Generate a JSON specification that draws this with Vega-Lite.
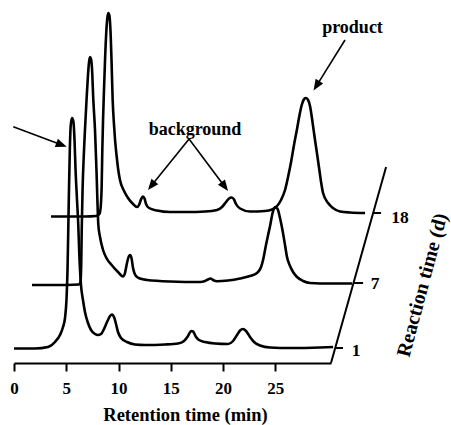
{
  "$schema": "https://vega.github.io/schema/vega-lite/v6.json",
  "width": 317,
  "height": 363,
  "autosize": "none",
  "padding": {"left": 14, "top": 0, "right": 120, "bottom": 62},
  "background": "white",
  "config": {"view": {"stroke": null}, "font": "Liberation Serif"},
  "datasets": {
    "traces": [
      {"day":1,"x":0,"y":-0.5},{"day":1,"x":2.01,"y":-0.5},{"day":1,"x":3.25,"y":1},{"day":1,"x":3.92,"y":6},{"day":1,"x":4.40,"y":13},{"day":1,"x":4.69,"y":21},{"day":1,"x":4.88,"y":30},{"day":1,"x":5.02,"y":48},{"day":1,"x":5.12,"y":78},{"day":1,"x":5.20,"y":123},{"day":1,"x":5.26,"y":158},{"day":1,"x":5.34,"y":198},{"day":1,"x":5.43,"y":223},{"day":1,"x":5.55,"y":230},{"day":1,"x":5.69,"y":226},{"day":1,"x":5.79,"y":208},{"day":1,"x":5.89,"y":178},{"day":1,"x":6.03,"y":148},{"day":1,"x":6.15,"y":123},{"day":1,"x":6.27,"y":88},{"day":1,"x":6.41,"y":63},{"day":1,"x":6.60,"y":48},{"day":1,"x":6.79,"y":36},{"day":1,"x":7.08,"y":25},{"day":1,"x":7.37,"y":18},{"day":1,"x":7.75,"y":14},{"day":1,"x":8.04,"y":13},{"day":1,"x":8.33,"y":14},{"day":1,"x":8.61,"y":19},{"day":1,"x":8.90,"y":26},{"day":1,"x":9.19,"y":32},{"day":1,"x":9.38,"y":33.5},{"day":1,"x":9.57,"y":31},{"day":1,"x":9.76,"y":24},{"day":1,"x":9.95,"y":16},{"day":1,"x":10.24,"y":10},{"day":1,"x":10.81,"y":6},{"day":1,"x":11.58,"y":3.5},{"day":1,"x":12.54,"y":3},{"day":1,"x":14.45,"y":3.5},{"day":1,"x":15.69,"y":4.5},{"day":1,"x":16.27,"y":7},{"day":1,"x":16.65,"y":12},{"day":1,"x":16.94,"y":17},{"day":1,"x":17.13,"y":16.5},{"day":1,"x":17.42,"y":11},{"day":1,"x":17.70,"y":8},{"day":1,"x":18.28,"y":6},{"day":1,"x":19.23,"y":4.5},{"day":1,"x":20.48,"y":4},{"day":1,"x":20.96,"y":7},{"day":1,"x":21.34,"y":13},{"day":1,"x":21.63,"y":17.5},{"day":1,"x":21.91,"y":19},{"day":1,"x":22.20,"y":17},{"day":1,"x":22.58,"y":11},{"day":1,"x":22.97,"y":6},{"day":1,"x":23.54,"y":2.5},{"day":1,"x":24.50,"y":0.5},{"day":1,"x":26.41,"y":0},{"day":1,"x":29.28,"y":0.5},{"day":1,"x":30.53,"y":1},
      {"day":7,"x":1.72,"y":63},{"day":7,"x":3.92,"y":63},{"day":7,"x":6.22,"y":63.5},{"day":7,"x":6.36,"y":66},{"day":7,"x":6.43,"y":83},{"day":7,"x":6.48,"y":118},{"day":7,"x":6.56,"y":158},{"day":7,"x":6.70,"y":198},{"day":7,"x":6.79,"y":218},{"day":7,"x":6.94,"y":248},{"day":7,"x":7.08,"y":273},{"day":7,"x":7.18,"y":286},{"day":7,"x":7.27,"y":291},{"day":7,"x":7.37,"y":289},{"day":7,"x":7.46,"y":280},{"day":7,"x":7.59,"y":248},{"day":7,"x":7.75,"y":218},{"day":7,"x":7.89,"y":178},{"day":7,"x":8.07,"y":123},{"day":7,"x":8.23,"y":111},{"day":7,"x":8.52,"y":98},{"day":7,"x":8.90,"y":89},{"day":7,"x":9.38,"y":82.5},{"day":7,"x":9.95,"y":76},{"day":7,"x":10.43,"y":71.5},{"day":7,"x":10.62,"y":75},{"day":7,"x":10.81,"y":85},{"day":7,"x":11.00,"y":92},{"day":7,"x":11.10,"y":93},{"day":7,"x":11.24,"y":90},{"day":7,"x":11.39,"y":80},{"day":7,"x":11.67,"y":72},{"day":7,"x":12.06,"y":69.5},{"day":7,"x":12.73,"y":68},{"day":7,"x":14.93,"y":66.5},{"day":7,"x":17.80,"y":66},{"day":7,"x":18.28,"y":67},{"day":7,"x":18.56,"y":68.5},{"day":7,"x":18.80,"y":69.5},{"day":7,"x":19.04,"y":68},{"day":7,"x":19.43,"y":66.7},{"day":7,"x":20.48,"y":67.5},{"day":7,"x":21.63,"y":69.5},{"day":7,"x":22.58,"y":72},{"day":7,"x":23.25,"y":75},{"day":7,"x":23.64,"y":81},{"day":7,"x":23.83,"y":88},{"day":7,"x":24.11,"y":103},{"day":7,"x":24.31,"y":113},{"day":7,"x":24.50,"y":122},{"day":7,"x":24.74,"y":135},{"day":7,"x":24.98,"y":141},{"day":7,"x":25.22,"y":139},{"day":7,"x":25.45,"y":130},{"day":7,"x":25.65,"y":120},{"day":7,"x":25.93,"y":103},{"day":7,"x":26.12,"y":91},{"day":7,"x":26.41,"y":82},{"day":7,"x":26.70,"y":76},{"day":7,"x":27.08,"y":71},{"day":7,"x":27.66,"y":67},{"day":7,"x":28.33,"y":65},{"day":7,"x":30.24,"y":64.5},{"day":7,"x":32.34,"y":64.5},
      {"day":18,"x":3.54,"y":131.5},{"day":18,"x":6.79,"y":131.5},{"day":18,"x":7.85,"y":132},{"day":18,"x":8.18,"y":134},{"day":18,"x":8.31,"y":143},{"day":18,"x":8.39,"y":163},{"day":18,"x":8.45,"y":198},{"day":18,"x":8.52,"y":228},{"day":18,"x":8.61,"y":258},{"day":18,"x":8.71,"y":288},{"day":18,"x":8.83,"y":316},{"day":18,"x":8.93,"y":330},{"day":18,"x":9.02,"y":335},{"day":18,"x":9.12,"y":333},{"day":18,"x":9.22,"y":320},{"day":18,"x":9.33,"y":288},{"day":18,"x":9.44,"y":248},{"day":18,"x":9.57,"y":223},{"day":18,"x":9.67,"y":208},{"day":18,"x":9.81,"y":193},{"day":18,"x":9.95,"y":180},{"day":18,"x":10.14,"y":168},{"day":18,"x":10.53,"y":157},{"day":18,"x":10.91,"y":150},{"day":18,"x":11.39,"y":144},{"day":18,"x":11.77,"y":141},{"day":18,"x":11.96,"y":143},{"day":18,"x":12.15,"y":148.5},{"day":18,"x":12.33,"y":151.5},{"day":18,"x":12.49,"y":149.5},{"day":18,"x":12.63,"y":144},{"day":18,"x":12.92,"y":140},{"day":18,"x":13.68,"y":137.5},{"day":18,"x":14.93,"y":136},{"day":18,"x":16.56,"y":136},{"day":18,"x":18.28,"y":136.5},{"day":18,"x":19.43,"y":138},{"day":18,"x":19.90,"y":141},{"day":18,"x":20.29,"y":146},{"day":18,"x":20.57,"y":149.5},{"day":18,"x":20.83,"y":150.5},{"day":18,"x":21.05,"y":148.5},{"day":18,"x":21.24,"y":144},{"day":18,"x":21.63,"y":139.5},{"day":18,"x":22.58,"y":136.5},{"day":18,"x":24.02,"y":137},{"day":18,"x":24.69,"y":138.5},{"day":18,"x":25.17,"y":142},{"day":18,"x":25.55,"y":148},{"day":18,"x":25.93,"y":158},{"day":18,"x":26.22,"y":171},{"day":18,"x":26.51,"y":186},{"day":18,"x":26.79,"y":203},{"day":18,"x":27.08,"y":219},{"day":18,"x":27.32,"y":233},{"day":18,"x":27.53,"y":243},{"day":18,"x":27.73,"y":248.5},{"day":18,"x":27.91,"y":250},{"day":18,"x":28.11,"y":248.5},{"day":18,"x":28.33,"y":241.5},{"day":18,"x":28.56,"y":226},{"day":18,"x":28.76,"y":211},{"day":18,"x":28.97,"y":196},{"day":18,"x":29.19,"y":180},{"day":18,"x":29.38,"y":166},{"day":18,"x":29.57,"y":155},{"day":18,"x":30.05,"y":145},{"day":18,"x":30.55,"y":139.7},{"day":18,"x":31.20,"y":136.5},{"day":18,"x":32.15,"y":135.5},{"day":18,"x":33.59,"y":135}
    ],
    "daxis": [
      {"x":30.33,"y":-15,"x2":35.60,"y2":181},
      {"x":30.72,"y":0,"x2":31.48,"y2":0},
      {"x":32.49,"y":65,"x2":33.40,"y2":65},
      {"x":34.36,"y":135,"x2":35.12,"y2":135}
    ],
    "dlabels": [
      {"label":"1","x":32.73,"y":-3},
      {"label":"7","x":34.55,"y":64},
      {"label":"18","x":36.94,"y":130}
    ],
    "arrows": [
      {"x":-0.07,"y":221.3,"x2":4.59,"y2":203},
      {"x":16.75,"y":209,"x2":13.12,"y2":161.9},
      {"x":16.75,"y":209,"x2":20.19,"y2":161},
      {"x":31.67,"y":308,"x2":28.91,"y2":261.7}
    ],
    "heads": [
      {"id":"a","x":5.04,"y":201.3},
      {"id":"b","x":12.82,"y":158},
      {"id":"c","x":20.48,"y":157},
      {"id":"d","x":28.66,"y":257.5}
    ],
    "notes": [
      {"label":"background","x":17.32,"y":213.5},
      {"label":"product","x":32.39,"y":314.7}
    ],
    "ztitle": [
      {"label":"Reaction time (d)","x":39.09,"y":63}
    ]
  },
  "encoding": {
    "x": {
      "field": "x", "type": "quantitative",
      "scale": {"domain": [0, 30.33], "nice": false, "zero": false},
      "axis": {
        "values": [0, 5, 10, 15, 20, 25], "grid": false,
        "domainColor": "black", "domainWidth": 2,
        "tickColor": "black", "tickWidth": 2, "tickSize": 8,
        "labelFont": "Liberation Serif", "labelFontWeight": "bold", "labelFontSize": 17, "labelColor": "black", "labelPadding": 9, "labelFlush": false,
        "title": "Retention time (min)", "titleFont": "Liberation Serif", "titleFontWeight": "bold", "titleFontSize": 18.5, "titleColor": "black",
        "titleX": 171, "titleY": 57, "titleBaseline": "alphabetic", "titleAlign": "center"
      }
    },
    "y": {
      "field": "y", "type": "quantitative",
      "scale": {"domain": [-15, 348], "nice": false, "zero": false},
      "axis": null
    }
  },
  "layer": [
    {
      "data": {"name": "traces"},
      "mark": {"type": "line", "interpolate": "monotone", "strokeWidth": 2.6, "color": "black"},
      "encoding": {"detail": {"field": "day", "type": "nominal"}}
    },
    {
      "data": {"name": "daxis"},
      "mark": {"type": "rule", "strokeWidth": 2, "color": "black"},
      "encoding": {"x2": {"field": "x2"}, "y2": {"field": "y2"}}
    },
    {
      "data": {"name": "arrows"},
      "mark": {"type": "rule", "strokeWidth": 1.6, "color": "black"},
      "encoding": {"x2": {"field": "x2"}, "y2": {"field": "y2"}}
    },
    {
      "data": {"name": "heads"},
      "transform": [{"filter": "datum.id == 'a'"}],
      "mark": {"type": "point", "shape": "M0,0L-0.4,1L0.4,1Z", "size": 484, "angle": 110.5, "filled": true, "opacity": 1, "color": "black", "strokeWidth": 0}
    },
    {
      "data": {"name": "heads"},
      "transform": [{"filter": "datum.id == 'b'"}],
      "mark": {"type": "point", "shape": "M0,0L-0.4,1L0.4,1Z", "size": 484, "angle": 218.8, "filled": true, "opacity": 1, "color": "black", "strokeWidth": 0}
    },
    {
      "data": {"name": "heads"},
      "transform": [{"filter": "datum.id == 'c'"}],
      "mark": {"type": "point", "shape": "M0,0L-0.4,1L0.4,1Z", "size": 484, "angle": 143.1, "filled": true, "opacity": 1, "color": "black", "strokeWidth": 0}
    },
    {
      "data": {"name": "heads"},
      "transform": [{"filter": "datum.id == 'd'"}],
      "mark": {"type": "point", "shape": "M0,0L-0.4,1L0.4,1Z", "size": 484, "angle": 212, "filled": true, "opacity": 1, "color": "black", "strokeWidth": 0}
    },
    {
      "data": {"name": "dlabels"},
      "mark": {"type": "text", "font": "Liberation Serif", "fontWeight": "bold", "fontSize": 17.5, "color": "black", "align": "center", "baseline": "middle"},
      "encoding": {"text": {"field": "label"}}
    },
    {
      "data": {"name": "notes"},
      "mark": {"type": "text", "font": "Liberation Serif", "fontWeight": "bold", "fontSize": 18, "color": "black", "align": "center", "baseline": "alphabetic"},
      "encoding": {"text": {"field": "label"}}
    },
    {
      "data": {"name": "ztitle"},
      "mark": {"type": "text", "font": "Liberation Serif", "fontWeight": "bold", "fontSize": 20, "color": "black", "align": "center", "baseline": "middle", "angle": 285},
      "encoding": {"text": {"field": "label"}}
    }
  ]
}
